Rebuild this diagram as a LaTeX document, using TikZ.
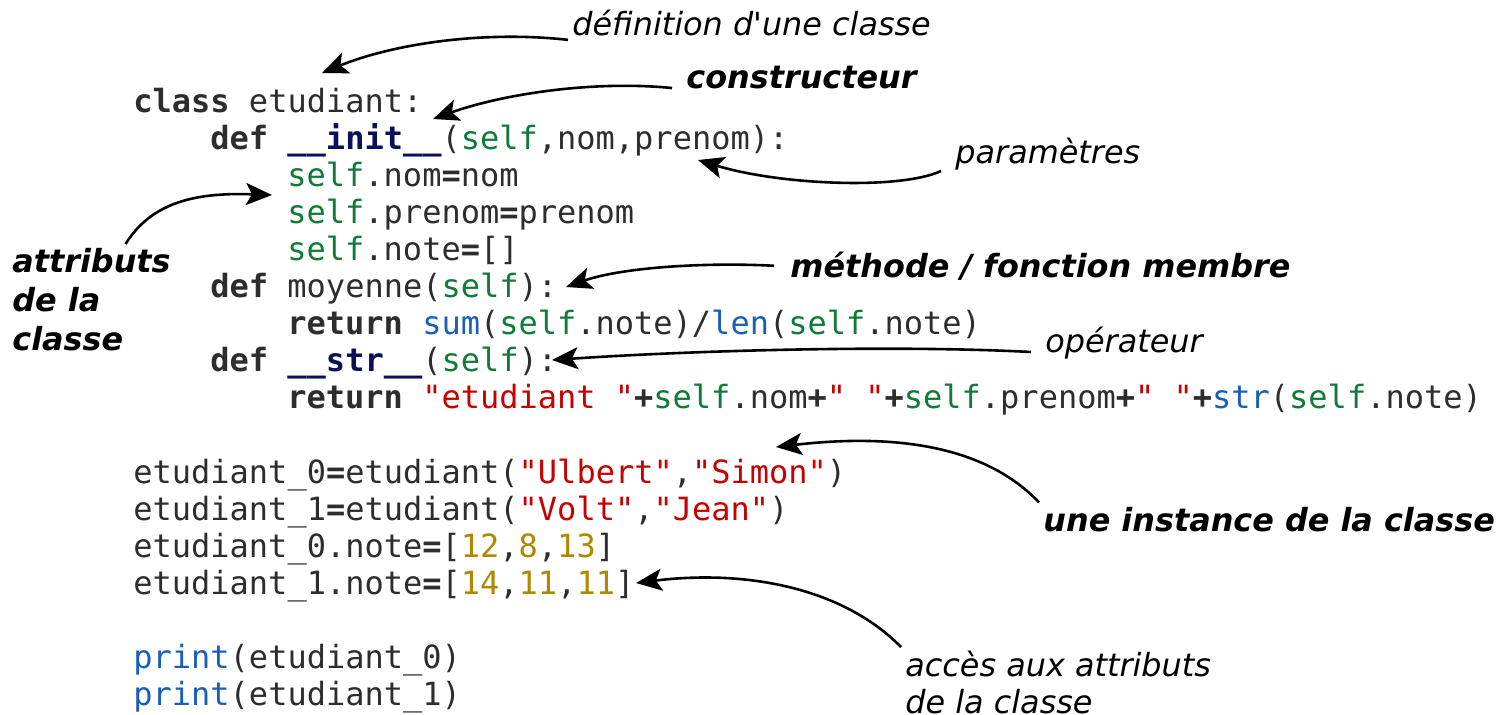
\documentclass[tikz,border=0pt]{standalone}
\usepackage{fontspec}
\setmainfont{DejaVu Sans}[Ligatures=TeXOff]
\setmonofont{DejaVu Sans Mono}
\usepackage{xcolor}
\usepackage{tikz}
\usetikzlibrary{arrows.meta}
\definecolor{codegray}{RGB}{45, 45, 45}
\definecolor{codenavy}{RGB}{10, 16, 90}
\definecolor{codegreen}{RGB}{16, 122, 56}
\definecolor{codeblue}{RGB}{25, 95, 185}
\definecolor{codered}{RGB}{200, 0, 0}
\definecolor{codegold}{RGB}{176, 136, 0}
% bouts de code colores
\newcommand\kw[1]{\textbf{#1}}
\newcommand\dund[1]{\textcolor{codenavy}{\textbf{#1}}}
\newcommand\slf{\textcolor{codegreen}{self}}
\newcommand\bif[1]{\textcolor{codeblue}{#1}}
\newcommand\strg[1]{\textcolor{codered}{#1}}
\newcommand\nb[1]{\textcolor{codegold}{#1}}
\newcommand\bop[1]{\textbf{#1}}
\tikzset{
    code/.style={
        anchor=base west, inner sep=0pt, text=codegray,
        font=\ttfamily\fontsize{16}{18.55}\selectfont
    },
    lbl/.style={
        anchor=base west, inner sep=2pt, text=black, align=left,
        font=\fontsize{15.93}{18.5}\selectfont\itshape
    },
    lblb/.style={lbl, font=\fontsize{15.93}{19.5}\selectfont\bfseries\itshape},
    fleche/.style={-{Stealth[length=13pt, width=11pt, inset=3pt]}, line width=1.3pt, black},
}

\begin{document}
\begin{tikzpicture}[x=0.5pt, y=-0.5pt]
    \useasboundingbox (0,0) rectangle (1500,714);

    % ── le code ──────────────────────────────────────────
    \node [code] (l0)  at (133,112.0) {\kw{class} etudiant:};
    \node [code] (l1)  at (210,149.1) {\kw{def} \dund{\_\_init\_\_}(\slf,nom,prenom):};
    \node [code] (l2)  at (287,186.2) {\slf.nom\bop{=}nom};
    \node [code] (l3)  at (287,223.3) {\slf.prenom\bop{=}prenom};
    \node [code] (l4)  at (287,260.4) {\slf.note\bop{=}[]};
    \node [code] (l5)  at (210,297.5) {\kw{def} moyenne(\slf):};
    \node [code] (l6)  at (287,334.6) {\kw{return} \bif{sum}(\slf.note)/\bif{len}(\slf.note)};
    \node [code] (l7)  at (210,371.7) {\kw{def} \dund{\_\_str\_\_}(\slf):};
    \node [code] (l8)  at (287,408.8) {\kw{return} \strg{"etudiant "}\bop{+}\slf.nom\bop{+}\strg{" "}\bop{+}\slf.prenom\bop{+}\strg{" "}\bop{+}\bif{str}(\slf.note)};
    \node [code] (l10) at (133,483.0) {etudiant\_0\bop{=}etudiant(\strg{"Ulbert"},\strg{"Simon"})};
    \node [code] (l11) at (133,520.1) {etudiant\_1\bop{=}etudiant(\strg{"Volt"},\strg{"Jean"})};
    \node [code] (l12) at (133,557.2) {etudiant\_0.note\bop{=}[\nb{12},\nb{8},\nb{13}]};
    \node [code] (l13) at (133,594.3) {etudiant\_1.note\bop{=}[\nb{14},\nb{11},\nb{11}]};
    \node [code] (l15) at (133,668.5) {\bif{print}(etudiant\_0)};
    \node [code] (l16) at (133,705.6) {\bif{print}(etudiant\_1)};

    % ── les etiquettes ───────────────────────────────────
    \node [lbl]  (lbldef)  at (568,35)  {définition d'une classe};
    \node [lblb] (lblcons) at (682,88)  {constructeur};
    \node [lbl]  (lblpar)  at (951,163) {paramètres};
    \node [lblb, anchor=north west] (lblattr) at (8,244) {attributs\\de la\\classe};
    \node [lblb] (lblmeth) at (786,277) {méthode / fonction membre};
    \node [lbl]  (lblop)   at (1041,352) {opérateur};
    \node [lblb] (lblinst) at (1039,531) {une instance de la classe};
    \node [lbl, anchor=north west] (lblacc) at (901,647) {accès aux attributs\\de la classe};

    % ── points vises dans le code ────────────────────────
    \coordinate (cclass) at (322,73);
    \coordinate (cinit)  at (433,119);
    \coordinate (cparam) at (698,160);
    \coordinate (cattr)  at (272,195);
    \coordinate (cmoy)   at (566,287);
    \coordinate (cstr)   at (552,360);
    \coordinate (cinst)  at (776,447);
    \coordinate (cnote)  at (636,583);

    % ── fleches ──────────────────────────────────────────
    \draw [fleche] (lbldef.south west) .. controls (480,30) and (390,45) .. (cclass);
    \draw [fleche] ([xshift=-5pt]lblcons.base west) .. controls (590,80) and (500,95) .. (cinit);
    \draw [fleche] ([xshift=-5pt, yshift=-4pt]lblpar.base west) .. controls (900,190) and (780,185) .. (cparam);
    \draw [fleche] ([xshift=17pt]lblattr.north) .. controls (150,205) and (190,192) .. (cattr);
    \draw [fleche] ([xshift=-6pt]lblmeth.west) .. controls (700,262) and (620,268) .. (cmoy);
    \draw [fleche] ([xshift=-5pt]lblop.base west) .. controls (900,345) and (700,350) .. (cstr);
    \draw [fleche] (lblinst.north west) .. controls (980,440) and (880,435) .. (cinst);
    \draw [fleche] (lblacc.north west) .. controls (840,585) and (740,570) .. (cnote);

\end{tikzpicture}
\end{document}
